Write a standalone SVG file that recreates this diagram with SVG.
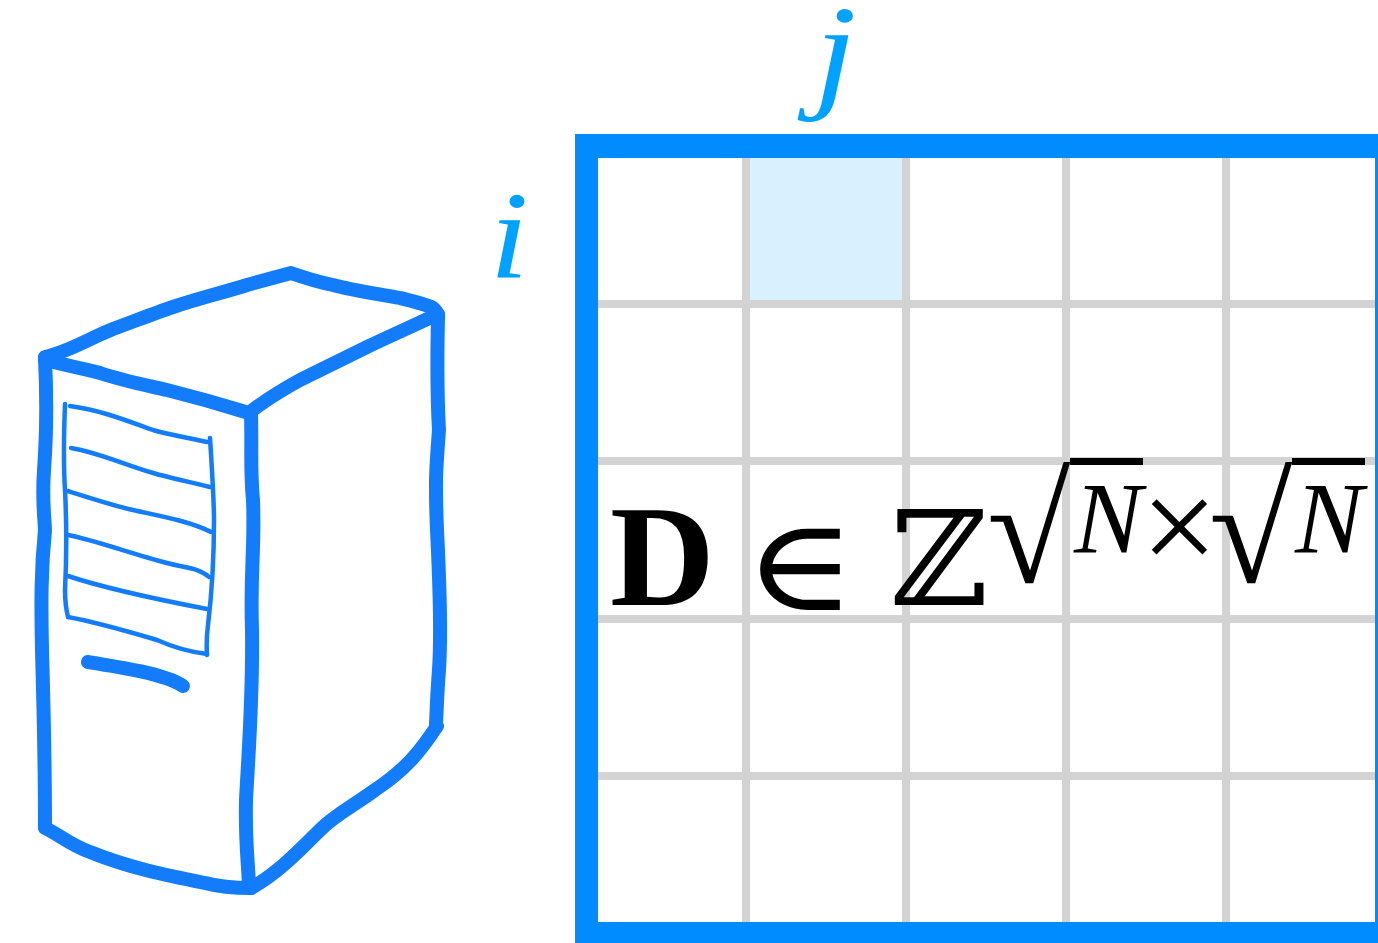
<svg xmlns="http://www.w3.org/2000/svg" width="1378" height="943" viewBox="0 0 1378 943">
<style>
.thick{fill:none;stroke:#127cfb;stroke-width:14;stroke-linecap:round;stroke-linejoin:round}
.thin{fill:none;stroke:#127cfb;stroke-width:4.5;stroke-linecap:round;stroke-linejoin:round}
.gl{fill:#d3d3d3}
.math{font-family:"Liberation Serif","DejaVu Serif",serif;fill:#000}
.lab{font-family:"Liberation Serif",serif;font-style:italic;fill:#00a2ff}
</style>
<rect width="1378" height="943" fill="#fff"/>
<g id="server">
<path class="thick" d="M45 357C68 352 90 338 113 329C135 321 155 313 173 307C200 298 225 292 247 285L291 273C305 278 318 282 333 285C355 291 380 294 400 298C412 301 425 304 433 308Q437 311 438 316"/>
<path class="thick" d="M45 360C65 365 85 369 100 373C120 380 145 385 167 390C195 397 220 404 249 413C265 400 282 390 300 380C322 369 345 358 367 347C390 336 415 325 438 314"/>
<path class="thick" d="M438 316C437 360 437 395 439 430C436 470 435 480 437 530C440 590 441 640 439 670C437 695 437 705 436 724"/>
<path class="thick" d="M437 726C420 752 405 770 375 790C350 808 335 815 320 830C295 855 275 875 251 888"/>
<path class="thick" d="M45 358C47 400 47 430 44 470C42 500 44 510 45 530C41 570 41 600 42 650C44 720 45 780 45 826"/>
<path class="thick" d="M45 828C60 835 70 845 90 852C130 868 165 875 205 883C220 887 235 888 251 888"/>
<path class="thick" d="M251 413C252 450 250 470 253 500C255 550 250 570 252 630C253 700 248 760 246 800C245 840 248 860 249 886"/>
<path class="thin" d="M65 404C64 430 63 460 65 490C67 530 66 570 65 590Q65 605 68 617"/>
<path class="thin" d="M210 438C212 470 214 500 214 520C214 560 211 600 208 625Q206 640 207 655"/>
<path class="thin" d="M70 406C100 410 125 420 153 430C170 435 190 438 207 442"/>
<path class="thin" d="M71 448C100 453 125 465 153 473C170 478 195 483 210 487"/>
<path class="thin" d="M68 491C90 498 115 506 133 510C155 515 190 521 211 532"/>
<path class="thin" d="M68 535C90 539 130 553 167 563C185 568 200 568 209 577"/>
<path class="thin" d="M68 576C110 590 160 600 207 609"/>
<path class="thin" d="M68 617C100 623 130 632 157 640C175 648 190 652 207 654"/>
<path class="thick" d="M88 662C120 667 165 674 183 686"/>
</g>
<g id="matrix">
<rect x="750" y="158" width="152" height="142" fill="#d9f1ff"/>
<g class="gl">
<rect x="742" y="158" width="8" height="764"/>
<rect x="902" y="158" width="8" height="764"/>
<rect x="1062" y="158" width="8" height="764"/>
<rect x="1222" y="158" width="8" height="764"/>
<rect x="598" y="300" width="777" height="8"/>
<rect x="598" y="457" width="777" height="8"/>
<rect x="598" y="615" width="777" height="8"/>
<rect x="598" y="772" width="777" height="8"/>
</g>
<path fill="#008cff" fill-rule="evenodd" d="M575 134H1378V943H575ZM598 158V922H1375V158Z"/>
</g>
<g id="labels">
<text class="lab" font-size="126" transform="translate(489.5 278) scale(1.12 1)">i</text>
<text class="lab" font-size="130" transform="translate(814 94) scale(1.18 1)">j</text>
</g>
<g id="formula">
<text class="math" x="610" y="605" font-size="145" font-weight="bold">D</text>
<text class="math" font-size="130" transform="translate(744 610) scale(1.16 1)">∈</text>
<text class="math" font-size="132" transform="translate(890 605) scale(1.02 1)">ℤ</text>
<text class="math" x="987" y="582" font-size="152">√</text>
<rect x="1070" y="458" width="73" height="7"/>
<text class="math" x="1074" y="553" font-size="102" font-style="italic">N</text>
<text class="math" x="1141" y="572" font-size="136">×</text>
<text class="math" x="1209" y="582" font-size="152">√</text>
<rect x="1292" y="458" width="73" height="7"/>
<text class="math" x="1295" y="553" font-size="102" font-style="italic">N</text>
</g>
</svg>
